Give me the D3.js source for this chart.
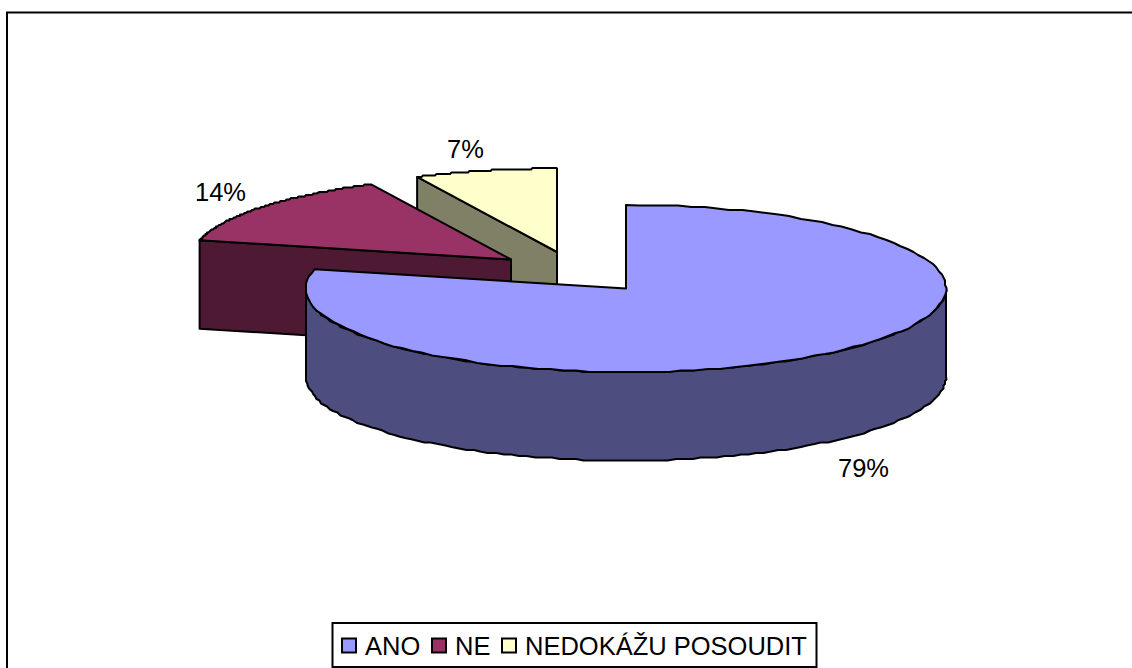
<!DOCTYPE html>
<html><head><meta charset="utf-8">
<script src="https://cdnjs.cloudflare.com/ajax/libs/d3/7.8.5/d3.min.js"></script>
<style>html,body{margin:0;padding:0;background:#fff;overflow:hidden}svg{display:block}text{font-family:"Liberation Sans",Arial,sans-serif;font-size:25.5px;fill:#000}</style>
</head><body><svg id="c" width="1132" height="668"></svg>
<script>
const categories = ["ANO", "NE", "NEDOKÁŽU POSOUDIT"];
const values = [78.7, 14.1, 7.2];
const labels = ["79%", "14%", "7%"];
const colors = ["#9999FF", "#993366", "#FFFFCC"];
const wallColors = ["#4D4D80", "#4D1933", "#808066"];

const W = 1132, H = 668;
const rx = 320, ry = 83.5, depth = 88.5;
const centers = [[626, 288.5], [511, 259.5], [557, 252]];
const labelPos = [[838, 477], [195, 201], [447, 158]];
const svg = d3.select("#c");

svg.append("path").attr("d", `M7,${H}V12.5H${W}`).attr("fill", "none").attr("stroke", "#000").attr("stroke-width", 2);

const arcs = d3.pie().sort(null).value(d => d)(values);
const xS = d3.scaleLinear().domain([-1, 1]).range([-rx, rx]);
const yS = d3.scaleLinear().domain([-1, 1]).range([-ry, ry]);
const line = d3.line();
const pt = (a, c, dy = 0) => [c[0] + xS(Math.sin(a)), c[1] + yS(-Math.cos(a)) + dy];
const snap = 1.5;
const q = (p) => [Math.round(p[0] / snap) * snap, Math.round(p[1] / snap) * snap];
// Rim polyline: quantised like the coarse metafile outline of the original, ends kept exact
const rim = (a0, a1, c, dy = 0) => d3.range(0, 121).map(i => {
  const p = pt(a0 + (a1 - a0) * i / 120, c, dy);
  return (i === 0 || i === 120) ? p : q(p);
});
const style = (s, fill) => s.attr("fill", fill).attr("stroke", "#000").attr("stroke-width", 2).attr("stroke-linejoin", "round");

// Painter's order: back slices first
[2, 1, 0].forEach(i => {
  const a = arcs[i], c = centers[i];
  const a0 = a.startAngle, a1 = a.endAngle;
  const g = svg.append("g");
  if (i === 0) {
    const r = Math.PI / 2, l = 3 * Math.PI / 2;
    const top = rim(r, l, c), bottom = rim(r, l, c, depth).reverse();
    style(g.append("path"), wallColors[i]).attr("d", line(top.concat(bottom)) + "Z");
  } else {
    const p = pt(a0, c);
    style(g.append("path"), wallColors[i]).attr("d", line([p, c, [c[0], c[1] + depth], [p[0], p[1] + depth]]) + "Z");
  }
  style(g.append("path"), colors[i]).attr("d", line([c].concat(rim(a0, a1, c))) + "Z");
});

labels.forEach((t, i) => svg.append("text").attr("x", labelPos[i][0]).attr("y", labelPos[i][1]).text(t));

// Legend
const lg = svg.append("g");
lg.append("rect").attr("x", 332.5).attr("y", 623).attr("width", 484).attr("height", 44).attr("fill", "#fff").attr("stroke", "#000").attr("stroke-width", 2);
const swatchX = [342, 432, 502], textX = [365, 455, 525];
categories.forEach((t, i) => {
  lg.append("rect").attr("x", swatchX[i]).attr("y", 638.5).attr("width", 14).attr("height", 14).attr("fill", colors[i]).attr("stroke", "#000").attr("stroke-width", 2);
  lg.append("text").attr("x", textX[i]).attr("y", 655).text(t);
});
</script></body></html>
